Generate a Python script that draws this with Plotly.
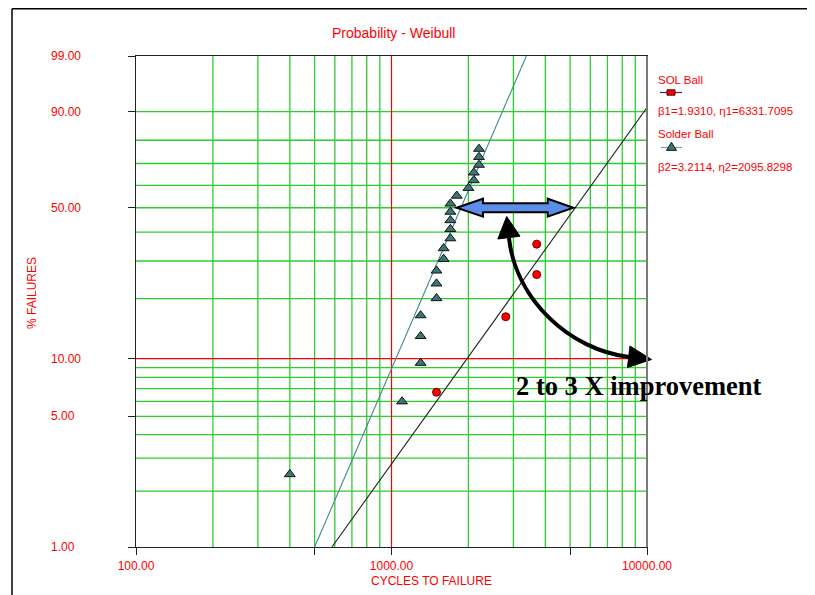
import numpy as np
import plotly.graph_objects as go

# ---------------- data ----------------
solder_cycles = [400, 1100, 1300, 1300, 1300, 1500, 1500, 1500, 1600, 1600,
                 1700, 1700, 1700, 1700, 1700, 1800, 2000, 2100, 2100, 2200,
                 2200, 2200]
solder_pct = [2.46, 5.99, 9.51, 13.03, 16.55, 20.07, 23.59, 27.11, 30.63, 34.15,
              37.68, 41.20, 44.72, 48.24, 51.76, 55.28, 58.80, 62.32, 65.85, 69.37,
              72.89, 76.41]

sol_cycles = [1500, 2800, 3700, 3700]
sol_pct = [6.7, 16.3, 26.0, 35.6]

sol_beta, sol_eta = 1.9310, 6331.7095
solder_beta, solder_eta = 3.2114, 2095.8298

x_ticks = [100, 1000, 10000]
x_ticktext = ["100.00", "1000.00", "10000.00"]
y_ticks_pct = [1, 5, 10, 50, 90, 99]
y_ticktext = ["1.00", "5.00", "10.00", "50.00", "90.00", "99.00"]

x_grid_green = [200, 300, 400, 500, 600, 700, 800, 900,
                2000, 3000, 4000, 5000, 6000, 7000, 8000, 9000]
x_grid_red = [1000]
y_grid_green = [2, 3, 4, 5, 6, 7, 8, 9, 20, 30, 40, 50, 60, 70, 80, 90]
y_grid_red = [10]

# ---------------- helpers ----------------
def wb(p):
    p = np.asarray(p, dtype=float) / 100.0
    return np.log(-np.log(1.0 - p))

X_MIN, X_MAX = 100, 10000
Y_LO, Y_HI = float(wb(1)), float(wb(99))

OFF = 8  # page body margin
W, H = 815 - OFF, 595 - OFF
PX0, PX1, PY0, PY1 = 136, 647, 56, 547  # plot area in page pixels
L, T = PX0 - OFF, PY0 - OFF
R = W - (PX1 - OFF)
B = H - (PY1 - OFF)
PW, PH = PX1 - PX0, PY1 - PY0


def px(x):
    return (x - PX0) / PW


def py(y):
    return (PY1 - y) / PH


def fit_line(beta, eta):
    ys = [Y_LO, Y_HI]
    xs = [eta * np.exp(y / beta) for y in ys]
    if xs[1] > X_MAX:
        xs[1] = X_MAX
        ys[1] = beta * np.log(X_MAX / eta)
    return xs, ys


def vlines(vals):
    xs, ys = [], []
    for v in vals:
        xs += [v, v, None]
        ys += [Y_LO, Y_HI, None]
    return xs, ys


def hlines(vals):
    xs, ys = [], []
    for v in vals:
        w = float(wb(v))
        xs += [X_MIN, X_MAX, None]
        ys += [w, w, None]
    return xs, ys


GREEN = "#2ECC2E"
RED = "#FF0000"
FONT = "Liberation Sans, Arial, sans-serif"

fig = go.Figure()

gx1, gy1 = vlines(x_grid_green)
gx2, gy2 = hlines(y_grid_green)
fig.add_trace(go.Scatter(x=gx1 + gx2, y=gy1 + gy2, mode="lines",
                         line=dict(color=GREEN, width=1.3), hoverinfo="skip"))
rx1, ry1 = vlines(x_grid_red)
rx2, ry2 = hlines(y_grid_red)
fig.add_trace(go.Scatter(x=rx1 + rx2, y=ry1 + ry2, mode="lines",
                         line=dict(color=RED, width=1.2), hoverinfo="skip"))

fx, fy = fit_line(solder_beta, solder_eta)
fig.add_trace(go.Scatter(x=fx, y=fy, mode="lines",
                         line=dict(color="#3F8A8A", width=1.1), hoverinfo="skip"))
fx, fy = fit_line(sol_beta, sol_eta)
fig.add_trace(go.Scatter(x=fx, y=fy, mode="lines",
                         line=dict(color="#222222", width=1.1), hoverinfo="skip"))

fig.add_trace(go.Scatter(x=solder_cycles, y=wb(solder_pct), mode="markers",
                         marker=dict(symbol="triangle-up", size=9.5, color="#3B7777",
                                     line=dict(color="#101010", width=1))))
fig.add_trace(go.Scatter(x=sol_cycles, y=wb(sol_pct), mode="markers",
                         marker=dict(symbol="circle", size=8, color="#FF0000",
                                     line=dict(color="#700000", width=1))))

shapes = []
# blue double arrow
bx = [456.7, 483, 483, 547.7, 547.7, 573.3, 547.7, 547.7, 483, 483]
by = [207.7, 198.7, 203.2, 203.2, 198.7, 207.7, 216.7, 212.2, 212.2, 216.7]
path = "M " + " L ".join(f"{px(a):.4f},{py(b):.4f}" for a, b in zip(bx, by)) + " Z"
shapes.append(dict(type="path", xref="paper", yref="paper", path=path,
                   fillcolor="#5B8EE8", line=dict(color="black", width=2)))
# curved black arrow
c = [(509, 238), (516, 300), (570, 350), (629, 357)]
cpath = (f"M {px(c[0][0]):.4f},{py(c[0][1]):.4f} C "
         + ", ".join(f"{px(a):.4f},{py(b):.4f}" for a, b in c[1:]))
shapes.append(dict(type="path", xref="paper", yref="paper", path=cpath,
                   line=dict(color="black", width=4)))
for tri in ([(506.7, 216.5), (497.8, 239), (520, 236.2)],
            [(651.5, 359.5), (630, 346), (627.5, 367.5)]):
    tp = "M " + " L ".join(f"{px(a):.4f},{py(b):.4f}" for a, b in tri) + " Z"
    shapes.append(dict(type="path", xref="paper", yref="paper", path=tp,
                       fillcolor="black", line=dict(color="black", width=1)))

# legend symbols
shapes.append(dict(type="line", xref="paper", yref="paper",
                   x0=px(660), x1=px(682), y0=py(92.5), y1=py(92.5),
                   line=dict(color="#333333", width=1.2)))
shapes.append(dict(type="rect", xref="paper", yref="paper",
                   x0=px(667), x1=px(675), y0=py(95.2), y1=py(89.8),
                   fillcolor="#EE0000", line=dict(color="#600000", width=1)))
shapes.append(dict(type="line", xref="paper", yref="paper",
                   x0=px(661), x1=px(682), y0=py(147.5), y1=py(147.5),
                   line=dict(color="#7FA0A0", width=1.2)))
tp = "M " + " L ".join(f"{px(a):.4f},{py(b):.4f}" for a, b in
                       [(671.5, 142.3), (666.5, 150.3), (676.5, 150.3)]) + " Z"
shapes.append(dict(type="path", xref="paper", yref="paper", path=tp,
                   fillcolor="#3B7777", line=dict(color="#101010", width=1)))

# outer page frame
shapes.append(dict(type="line", xref="paper", yref="paper",
                   x0=px(12), x1=px(12), y0=py(8.8), y1=py(600),
                   line=dict(color="black", width=1.5)))
shapes.append(dict(type="line", xref="paper", yref="paper",
                   x0=px(12), x1=px(820), y0=py(8.8), y1=py(8.8),
                   line=dict(color="black", width=1.5)))
# right frame (grey)
shapes.append(dict(type="line", xref="paper", yref="paper",
                   x0=1, x1=1, y0=0, y1=1,
                   line=dict(color="#7A7A7A", width=2)))

annotations = []
annotations.append(dict(text="Probability - Weibull", xref="paper", yref="paper",
                        x=px(393), y=py(33), showarrow=False,
                        xanchor="center", yanchor="middle",
                        font=dict(family=FONT, size=14, color=RED)))
annotations.append(dict(text="CYCLES TO FAILURE", xref="paper", yref="paper",
                        x=px(369), y=py(581), showarrow=False,
                        xanchor="left", yanchor="middle",
                        font=dict(family=FONT, size=12, color=RED)))
annotations.append(dict(text="% FAILURES", xref="paper", yref="paper",
                        x=px(32), y=py(293), showarrow=False, textangle=-90,
                        xanchor="center", yanchor="middle",
                        font=dict(family=FONT, size=12, color=RED)))
for p, t in zip(y_ticks_pct, y_ticktext):
    annotations.append(dict(text=t, xref="paper", yref="y", x=px(49), y=float(wb(p)),
                            showarrow=False, xanchor="left", yanchor="middle",
                            font=dict(family=FONT, size=12, color=RED)))
legend_items = [("SOL Ball", 80), ("β1=1.9310, η1=6331.7095", 110.5),
                ("Solder Ball", 133.5), ("β2=3.2114, η2=2095.8298", 166.5)]
for t, yy in legend_items:
    annotations.append(dict(text=t, xref="paper", yref="paper", x=px(655.5), y=py(yy),
                            showarrow=False, xanchor="left", yanchor="middle",
                            font=dict(family=FONT, size=11.5, color=RED)))
annotations.append(dict(text="<b>2 to 3 X improvement</b>", xref="paper", yref="paper",
                        x=px(639), y=py(386), showarrow=False,
                        xanchor="center", yanchor="middle",
                        font=dict(family="Liberation Serif, Times New Roman, serif",
                                  size=26.5, color="black")))

fig.update_layout(
    width=W, height=H,
    margin=dict(l=L, r=R, t=T, b=B, pad=0),
    paper_bgcolor="white", plot_bgcolor="white",
    showlegend=False, hovermode=False,
    shapes=shapes, annotations=annotations,
)
fig.update_xaxes(type="log", range=[np.log10(X_MIN), np.log10(X_MAX)],
                 tickvals=[100, 500, 1000, 5000, 10000],
                 ticktext=[x_ticktext[0], "", x_ticktext[1], "", x_ticktext[2]],
                 ticks="outside", ticklen=7, tickcolor="#222222",
                 showgrid=False, zeroline=False,
                 showline=True, linecolor="#222222", linewidth=1.2, mirror=True,
                 tickfont=dict(family=FONT, size=12, color=RED),
                 ticklabelstandoff=0)
fig.update_yaxes(range=[Y_LO, Y_HI],
                 tickvals=[float(v) for v in wb(y_ticks_pct)],
                 showticklabels=False,
                 ticks="outside", ticklen=7, tickcolor="#222222",
                 showgrid=False, zeroline=False,
                 showline=True, linecolor="#222222", linewidth=1.2, mirror=True)

fig.write_html("out.html")
